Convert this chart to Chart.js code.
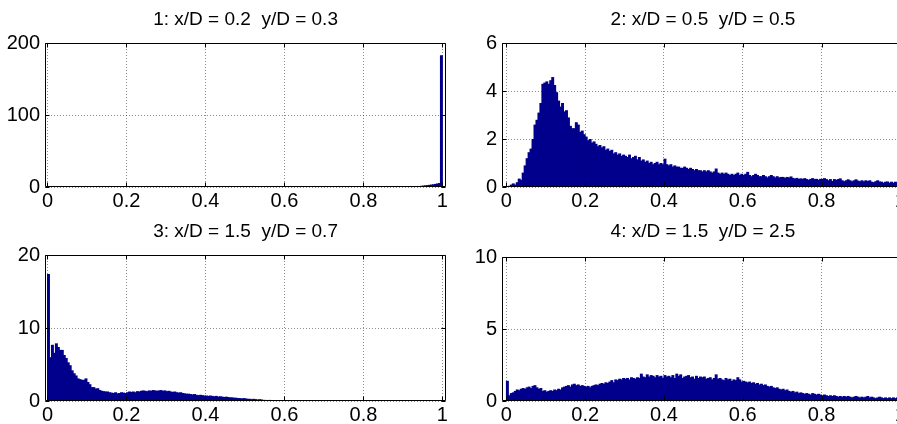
<!DOCTYPE html>
<html>
<head>
<meta charset="utf-8">
<script src="https://cdn.jsdelivr.net/npm/chart.js@4.4.0/dist/chart.umd.min.js"></script>
<style>
html, body { margin: 0; padding: 0; background: #fff; width: 897px; height: 424px; overflow: hidden; position: relative; }
canvas { position: absolute; }
</style>
</head>
<body>
<canvas id="c1" width="450" height="212" style="left:0;top:0"></canvas>
<canvas id="c2" width="460" height="212" style="left:450px;top:0"></canvas>
<canvas id="c3" width="450" height="212" style="left:0;top:212px"></canvas>
<canvas id="c4" width="460" height="212" style="left:450px;top:212px"></canvas>
<script>
// histogram bin width (fraction of D)
var binWidth = 0.005;

var titles = [
  '1: x/D = 0.2  y/D = 0.3',
  '2: x/D = 0.5  y/D = 0.5',
  '3: x/D = 1.5  y/D = 0.7',
  '4: x/D = 1.5  y/D = 2.5'
];

var xTicks = [0, 0.2, 0.4, 0.6, 0.8, 1];
var xTickLabels = ['0', '0.2', '0.4', '0.6', '0.8', '1'];

var yTicks1 = [0, 100, 200];
var yTicks2 = [0, 2, 4, 6];
var yTicks3 = [0, 10, 20];
var yTicks4 = [0, 5, 10];

// panel 1: only the bins from 0.9 up are non empty
var start1 = 0.9;
var counts1 = [0.2, 0.3, 0.4, 0.5, 0.7, 0.8, 1.0, 1.2, 1.4, 1.7,
  2.0, 2.3, 2.6, 3.0, 3.4, 3.8, 4.3, 4.9, 5.5, 183];

var start2 = 0;
var counts2 = [
  0, 0.05, 0.1, 0.15, 0.1, 0.2, 0.35, 0.3, 0.6, 0.9,
  1.2, 1.45, 1.6, 2.0, 2.6, 2.8, 3.1, 3.5, 4.3, 4.35,
  4.4, 4.3, 4.45, 4.58, 4.25, 3.95, 3.6, 3.35, 3.5, 3.15,
  3.2, 2.9, 2.55, 2.45, 2.45, 2.7, 2.6, 2.3, 2.35, 2.2,
  2.1, 1.95, 2.0, 1.85, 1.9, 1.8, 1.7, 1.75, 1.65, 1.7,
  1.55, 1.6, 1.5, 1.55, 1.4, 1.45, 1.35, 1.4, 1.3, 1.35,
  1.3, 1.25, 1.35, 1.2, 1.25, 1.3, 1.15, 1.25, 1.1, 1.15,
  1.05, 1.1, 1.0, 1.05, 0.95, 1.0, 1.05, 0.95, 1.0, 0.95,
  1.18, 0.95, 0.9, 0.95, 0.85, 0.9, 0.85, 0.85, 0.8, 0.8,
  0.85, 0.8, 0.75, 0.8, 0.75, 0.7, 0.75, 0.7, 0.7, 0.65,
  0.7, 0.65, 0.7, 0.65, 0.6, 0.65, 0.77, 0.6, 0.55, 0.6,
  0.55, 0.6, 0.55, 0.5, 0.55, 0.5, 0.55, 0.6, 0.5, 0.55,
  0.5, 0.55, 0.63, 0.5, 0.45, 0.5, 0.55, 0.5, 0.45, 0.45,
  0.5, 0.45, 0.4, 0.45, 0.5, 0.45, 0.4, 0.45, 0.4, 0.42,
  0.42, 0.38, 0.42, 0.4, 0.44, 0.38, 0.35, 0.38, 0.34, 0.36,
  0.34, 0.37, 0.33, 0.3, 0.34, 0.37, 0.33, 0.34, 0.3, 0.34,
  0.34, 0.37, 0.33, 0.28, 0.33, 0.25, 0.33, 0.3, 0.33, 0.36,
  0.28, 0.24, 0.28, 0.32, 0.28, 0.24, 0.28, 0.32, 0.27, 0.24,
  0.28, 0.24, 0.28, 0.25, 0.28, 0.22, 0.2, 0.24, 0.28, 0.23,
  0.22, 0.18, 0.22, 0.23, 0.18, 0.22, 0.18, 0.22, 0.18, 0.2
];

// panel 3: nothing above about 0.62
var start3 = 0;
var counts3 = [
  17.4, 6.0, 7.7, 6.6, 7.9, 7.4, 7.0, 7.0, 6.3, 5.9,
  5.3, 4.9, 4.2, 3.8, 3.5, 3.1, 3.0, 2.9, 2.9, 3.1,
  2.6, 2.3, 1.9, 1.9, 1.7, 1.75, 1.5, 1.4, 1.35, 1.3,
  1.3, 1.2, 1.15, 1.1, 1.2, 1.05, 1.1, 1.2, 1.15, 1.1,
  1.2, 1.3, 1.25, 1.3, 1.2, 1.35, 1.3, 1.4, 1.45, 1.4,
  1.35, 1.45, 1.4, 1.5, 1.45, 1.4, 1.45, 1.5, 1.4, 1.45,
  1.35, 1.4, 1.3, 1.25, 1.3, 1.2, 1.15, 1.2, 1.1, 1.05,
  1.0, 1.0, 0.95, 0.9, 0.95, 0.85, 0.8, 0.85, 0.8, 0.75,
  0.75, 0.7, 0.75, 0.7, 0.65, 0.7, 0.6, 0.65, 0.6, 0.55,
  0.6, 0.55, 0.5, 0.5, 0.45, 0.45, 0.4, 0.4, 0.35, 0.4,
  0.35, 0.3, 0.3, 0.25, 0.3, 0.25, 0.2, 0.25, 0.2, 0.15,
  0.15, 0.1, 0.15, 0.1, 0.1, 0.05, 0.1, 0.05, 0.05, 0.05,
  0.05, 0.05, 0.05, 0.03, 0.03
];

var start4 = 0;
var counts4 = [
  1.4, 0.4, 0.55, 0.6, 0.7, 0.8, 0.75, 0.85, 0.9, 0.85,
  0.95, 1.0, 0.9, 1.05, 1.1, 0.95, 0.85, 0.9, 0.7, 0.75,
  0.65, 0.7, 0.75, 0.7, 0.8, 0.75, 0.85, 0.8, 0.95, 1.0,
  1.05, 1.1, 1.0, 1.15, 1.2, 1.1, 1.15, 1.05, 1.1, 1.05,
  1.0, 1.05, 0.95, 1.05, 1.1, 1.15, 1.1, 1.2, 1.25, 1.2,
  1.3, 1.25, 1.35, 1.45, 1.3, 1.5, 1.45, 1.55, 1.5, 1.6,
  1.55, 1.6, 1.5, 1.65, 1.6, 1.55, 1.65, 1.6, 1.9, 1.7,
  1.65, 1.85, 1.7, 1.8, 1.75, 1.65, 1.8, 1.7, 1.75, 1.6,
  1.8, 1.7, 1.75, 1.65, 1.8, 1.6, 1.9, 1.75, 1.85, 1.6,
  1.7, 1.75, 1.8, 1.65, 1.7, 1.55, 1.75, 1.6, 1.7, 1.65,
  1.7, 1.55, 1.6, 1.65, 1.5, 1.6, 1.85, 1.55, 1.6, 1.5,
  1.45, 1.6, 1.5, 1.55, 1.4, 1.5, 1.45, 1.65, 1.5, 1.35,
  1.4, 1.35, 1.3, 1.35, 1.25, 1.3, 1.2, 1.25, 1.15, 1.2,
  1.1, 1.15, 1.05, 1.0, 1.05, 0.95, 0.9, 0.95, 0.85, 0.8,
  0.85, 0.75, 0.8, 0.7, 0.65, 0.7, 0.6, 0.65, 0.55, 0.6,
  0.55, 0.5, 0.55, 0.5, 0.45, 0.55, 0.5, 0.45, 0.5, 0.45,
  0.4, 0.45, 0.4, 0.35, 0.4, 0.35, 0.4, 0.35, 0.3, 0.35,
  0.3, 0.35, 0.3, 0.35, 0.3, 0.25, 0.3, 0.35, 0.3, 0.25,
  0.3, 0.25, 0.3, 0.35, 0.25, 0.3, 0.25, 0.2, 0.25, 0.3,
  0.25, 0.2, 0.25, 0.2, 0.25, 0.2, 0.25, 0.2, 0.25, 0.2
];

var fontFamily = '"Liberation Sans", Arial, Helvetica, sans-serif';
var barColor = 'rgb(0,0,140)';
var gridColor = 'rgba(0,0,0,0.45)';

// axes box with inward ticks, like matlab
var boxPlugin = {
  id: 'box',
  afterDraw: function(chart) {
    var ctx = chart.ctx, a = chart.chartArea;
    var x = chart.scales.x, y = chart.scales.y;
    var l = Math.round(a.left) + 0.5, r = Math.round(a.right) - 0.5;
    var t = Math.round(a.top) + 0.5, b = Math.round(a.bottom) - 0.5;
    ctx.save();
    ctx.lineWidth = 1;
    ctx.strokeStyle = '#000';
    ctx.beginPath();
    ctx.moveTo(l, t); ctx.lineTo(l, b); ctx.lineTo(r, b); ctx.lineTo(r, t); ctx.lineTo(l, t);
    x.ticks.forEach(function(tk) {
      var px = Math.round(x.getPixelForValue(tk.value)) + 0.5;
      ctx.moveTo(px, b); ctx.lineTo(px, b - 4);
      ctx.moveTo(px, t); ctx.lineTo(px, t + 4);
    });
    y.ticks.forEach(function(tk) {
      var py = Math.round(y.getPixelForValue(tk.value)) + 0.5;
      ctx.moveTo(l, py); ctx.lineTo(l + 4, py);
      ctx.moveTo(r, py); ctx.lineTo(r - 4, py);
    });
    ctx.stroke();
    ctx.restore();
  }
};

function makePanel(id, title, start, counts, yMax, yTicks, lay) {
  var pts = counts.map(function(c, i) {
    return { x: start + (i + 0.5) * binWidth, y: c };
  });
  var tickFont = { family: fontFamily, size: 20 };
  return new Chart(document.getElementById(id), {
    type: 'bar',
    data: {
      datasets: [{
        data: pts,
        backgroundColor: barColor,
        borderWidth: 0,
        barPercentage: 1.5,
        categoryPercentage: 1
      }]
    },
    options: {
      responsive: false,
      animation: false,
      events: [],
      layout: { padding: { left: 0, right: lay.padR, top: 0, bottom: 0 } },
      plugins: {
        legend: { display: false },
        tooltip: { enabled: false },
        title: {
          display: true,
          text: title,
          fullSize: false,
          color: '#000',
          font: { family: fontFamily, size: 19, weight: 'normal' },
          padding: { top: lay.tTop, bottom: lay.tBottom }
        }
      },
      scales: {
        x: {
          type: 'linear',
          min: lay.xMin,
          max: lay.xMax,
          offset: false,
          afterFit: function(s) { s.height = lay.axisH; },
          afterBuildTicks: function(s) {
            s.ticks = xTicks.map(function(v) { return { value: v }; });
          },
          ticks: {
            autoSkip: false,
            maxRotation: 0,
            padding: 2,
            color: '#000',
            font: tickFont,
            callback: function(v, i) { return xTickLabels[i]; }
          },
          grid: { offset: false, drawTicks: false, color: gridColor, lineWidth: 1 },
          border: { display: false, dash: [1, 2] }
        },
        y: {
          min: 0,
          max: yMax,
          afterFit: function(s) { s.width = lay.leftW; },
          afterBuildTicks: function(s) {
            s.ticks = yTicks.map(function(v) { return { value: v }; });
          },
          ticks: {
            padding: 5,
            color: '#000',
            font: tickFont,
            callback: function(v) { return String(v); }
          },
          grid: { drawTicks: false, color: gridColor, lineWidth: 1 },
          border: { display: false, dash: [1, 2] }
        }
      }
    },
    plugins: [boxPlugin]
  });
}

var leftLay = { leftW: 45, padR: 3, xMin: -0.0063, xMax: 1.0093 };
var rightLay = { leftW: 52, padR: 6, xMin: -0.0112, xMax: 1.0093 };

makePanel('c1', titles[0], start1, counts1, 200, yTicks1,
  Object.assign({ tTop: 8.6, tBottom: 11.6, axisH: 25 }, leftLay));
makePanel('c2', titles[1], start2, counts2, 6, yTicks2,
  Object.assign({ tTop: 8.6, tBottom: 11.6, axisH: 25 }, rightLay));
makePanel('c3', titles[2], start3, counts3, 20, yTicks3,
  Object.assign({ tTop: 8.6, tBottom: 11.6, axisH: 23 }, leftLay));
makePanel('c4', titles[3], start4, counts4, 10, yTicks4,
  Object.assign({ tTop: 8.6, tBottom: 13.6, axisH: 23 }, rightLay));
</script>
</body>
</html>
